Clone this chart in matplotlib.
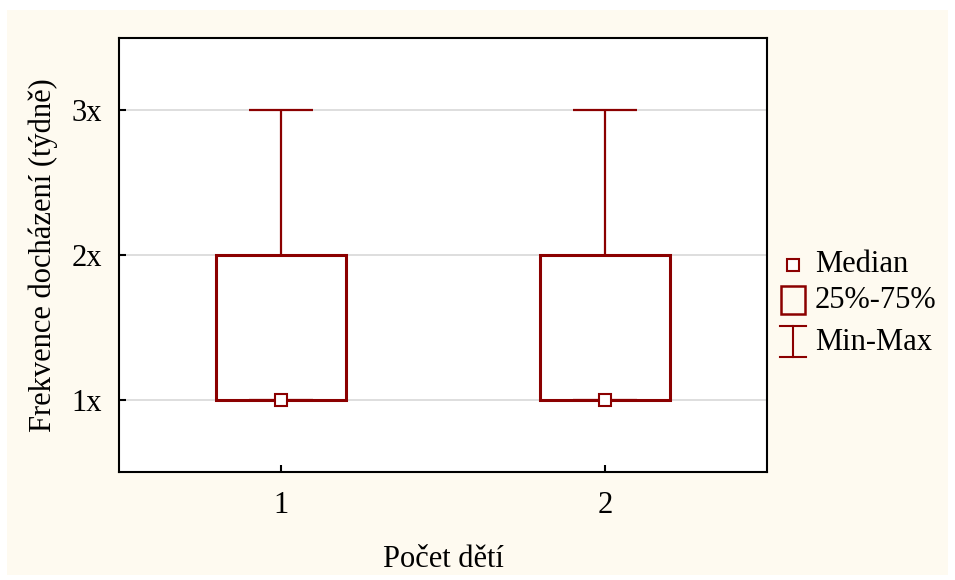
import numpy as np
import matplotlib.pyplot as plt
from matplotlib.patches import Rectangle

# data
categories = ['1', '2']
mins = [1, 1]
q1 = [1, 1]
medians = [1, 1]
q3 = [2, 2]
maxs = [3, 3]
ytick_vals = [1, 2, 3]
ytick_labels = ['1x', '2x', '3x']

red = '#8B0000'
plt.rcParams['font.family'] = ['Liberation Serif', 'DejaVu Serif']
plt.rcParams['font.size'] = 22

fig = plt.figure(figsize=(9.55, 5.8), dpi=100, facecolor='white')
fig.patches.append(Rectangle((7/955, 5/580), 941/955, 565/580, transform=fig.transFigure,
                             facecolor='#FEFAF0', edgecolor='none', zorder=-10))
ax = fig.add_axes([119/955, 108/580, 648/955, 434/580])
ax.set_facecolor('white')

xs = np.arange(1, len(categories) + 1)
bw = 0.4
cw = 0.2
for x, lo, a, m, b, hi in zip(xs, mins, q1, medians, q3, maxs):
    ax.vlines(x, b, hi, color=red, lw=1.6, zorder=3)
    ax.vlines(x, lo, a, color=red, lw=1.6, zorder=3)
    ax.hlines([lo, hi], x - cw/2, x + cw/2, color=red, lw=1.6, zorder=3)
    ax.add_patch(Rectangle((x - bw/2, a), bw, b - a, facecolor='white',
                           edgecolor=red, lw=2.2, zorder=2))
    ax.plot(x, m, marker='s', ms=8, mfc='white', mec=red, mew=1.5, zorder=4)

ax.set_xlim(0.5, 2.5)
ax.set_ylim(0.5, 3.5)
ax.set_xticks(xs)
ax.set_xticklabels(categories)
ax.set_yticks(ytick_vals)
ax.set_yticklabels(ytick_labels)
ax.tick_params(direction='in', length=5, width=1.5, labelsize=22)
ax.tick_params(axis='x', pad=14)
ax.tick_params(axis='y', pad=12)
ax.grid(axis='y', color='#D8D8D8', lw=1.2, zorder=0)
ax.set_axisbelow(True)
for s in ax.spines.values():
    s.set_linewidth(1.5)

ax.set_xlabel('Počet dětí', fontsize=22, labelpad=18)
ax.set_ylabel('Frekvence docházení (týdně)', fontsize=22, labelpad=10)

# legend on the right, drawn by hand
tf = fig.transFigure
def fx(px): return px / 955
def fy(py): return 1 - py / 580
ax.plot([fx(793)], [fy(265)], transform=tf, marker='s', ms=8, mfc='white', mec=red,
        mew=1.5, clip_on=False)
fig.text(fx(815), fy(265), 'Median', va='center', fontsize=22)
fig.patches.append(Rectangle((fx(781), fy(314)), 24/955, 28/580, transform=tf,
                             facecolor='none', edgecolor=red, lw=1.8))
fig.text(fx(815), fy(300), '25%-75%', va='center', fontsize=22)
ax.plot([fx(793), fx(793)], [fy(326), fy(357)], transform=tf, color=red, lw=1.5, clip_on=False)
ax.plot([fx(780), fx(806)], [fy(326), fy(326)], transform=tf, color=red, lw=1.5, clip_on=False)
ax.plot([fx(780), fx(806)], [fy(357), fy(357)], transform=tf, color=red, lw=1.5, clip_on=False)
fig.text(fx(815), fy(343), 'Min-Max', va='center', fontsize=22)

fig.savefig('out.png', dpi=100, facecolor=fig.get_facecolor())
